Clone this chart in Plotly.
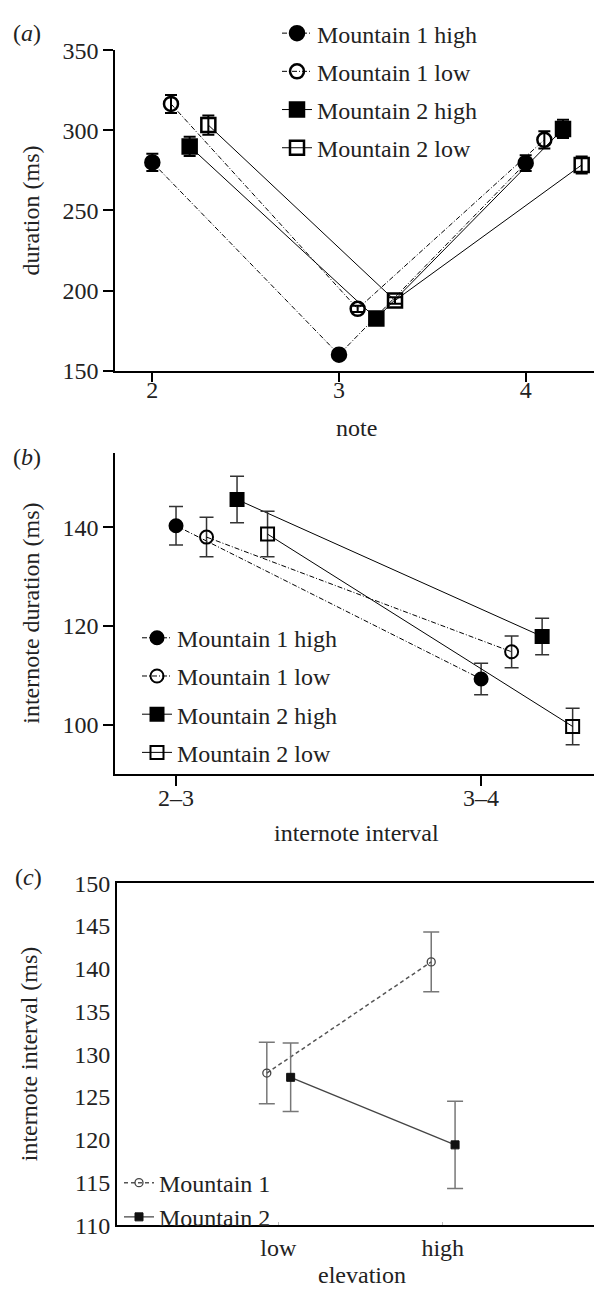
import plotly.graph_objects as go

W, H = 594, 1299
FONT = "Liberation Serif, Times New Roman, serif"
FS = 24

# ---------------- data ----------------
# panel (a): note duration (ms)
notes = [2, 3, 4]
a_m1_high = [280.0, 160.0, 279.5]
a_m1_high_err = [5.4, 2.0, 4.9]
a_m1_low = [316.5, 188.6, 294.1]
a_m1_low_err = [5.6, 2.0, 5.4]
a_m2_high = [290.0, 182.5, 300.9]
a_m2_high_err = [6.0, 2.0, 5.7]
a_m2_low = [303.3, 193.8, 278.4]
a_m2_low_err = [6.0, 2.0, 5.3]

# panel (b): internote duration (ms)
intervals = ["2–3", "3–4"]
b_m1_high = [140.3, 109.3]
b_m1_high_err = [3.9, 3.2]
b_m1_low = [138.0, 114.8]
b_m1_low_err = [4.0, 3.2]
b_m2_high = [145.6, 117.9]
b_m2_high_err = [4.7, 3.7]
b_m2_low = [138.6, 99.7]
b_m2_low_err = [4.6, 3.7]

# panel (c): internote interval (ms)
elevation = ["low", "high"]
c_m1 = [127.8, 140.8]
c_m1_err = [3.6, 3.5]
c_m2 = [127.3, 119.4]
c_m2_err = [4.0, 5.1]

series_names = ["Mountain 1 high", "Mountain 1 low", "Mountain 2 high", "Mountain 2 low"]

# ---------------- helpers ----------------
def fx(px):
    return px / W

def fy(py):
    return 1 - py / H

DASHDOT = "5px,2px,1px,2px"
styles = [
    dict(symbol="circle", dash=DASHDOT),
    dict(symbol="circle-open", dash=DASHDOT),
    dict(symbol="square", dash="solid"),
    dict(symbol="square-open", dash="solid"),
]
offsets = [0.0, 0.1, 0.2, 0.3]

fig = go.Figure()

# panel a traces
a_vals = [(a_m1_high, a_m1_high_err), (a_m1_low, a_m1_low_err),
          (a_m2_high, a_m2_high_err), (a_m2_low, a_m2_low_err)]
for i, (vals, errs) in enumerate(a_vals):
    st = styles[i]
    fig.add_trace(go.Scatter(
        x=[n + offsets[i] for n in notes], y=vals,
        mode="lines+markers", name=series_names[i],
        line=dict(color="black", width=1, dash=st["dash"]),
        marker=dict(symbol=st["symbol"], size=14, color="black",
                    line=dict(color="black", width=2.5)),
        error_y=dict(type="data", array=errs, color="black", thickness=2, width=6),
        xaxis="x", yaxis="y", legend="legend", legendgroup="a%d" % i,
    ))

# panel b traces
b_vals = [(b_m1_high, b_m1_high_err), (b_m1_low, b_m1_low_err),
          (b_m2_high, b_m2_high_err), (b_m2_low, b_m2_low_err)]
for i, (vals, errs) in enumerate(b_vals):
    st = styles[i]
    fig.add_trace(go.Scatter(
        x=[k + offsets[i] for k in range(len(intervals))], y=vals,
        mode="lines+markers", name=series_names[i],
        line=dict(color="black", width=1, dash=st["dash"]),
        marker=dict(symbol=st["symbol"], size=13, color="black",
                    line=dict(color="black", width=2)),
        error_y=dict(type="data", array=errs, color="#333333", thickness=1.5, width=7),
        xaxis="x2", yaxis="y2", legend="legend2", legendgroup="b%d" % i,
    ))

# panel c traces
c_offsets = [-0.07, 0.075]
fig.add_trace(go.Scatter(
    x=[k + 1 + c_offsets[0] for k in range(len(elevation))], y=c_m1,
    mode="lines+markers", name="Mountain 1",
    line=dict(color="#555555", width=1.5, dash="4px,3px"),
    marker=dict(symbol="circle-open", size=8, color="#444444",
                line=dict(color="#444444", width=1.3)),
    error_y=dict(type="data", array=c_m1_err, color="#777777", thickness=1.5, width=8),
    xaxis="x3", yaxis="y3", legend="legend3", legendgroup="c0",
))
fig.add_trace(go.Scatter(
    x=[k + 1 + c_offsets[1] for k in range(len(elevation))], y=c_m2,
    mode="lines+markers", name="Mountain 2",
    line=dict(color="#444444", width=1.3, dash="solid"),
    marker=dict(symbol="square", size=8, color="#111111",
                line=dict(color="#111111", width=1)),
    error_y=dict(type="data", array=c_m2_err, color="#777777", thickness=1.5, width=8),
    xaxis="x3", yaxis="y3", legend="legend3", legendgroup="c1",
))

axis_common = dict(
    showline=True, linecolor="black", linewidth=1.5,
    showgrid=False, zeroline=False,
    tickfont=dict(family=FONT, size=FS, color="#222222"),
)

layout = dict(
    width=W, height=H,
    margin=dict(l=0, r=0, t=0, b=0),
    paper_bgcolor="white", plot_bgcolor="white",
    font=dict(family=FONT, size=FS, color="#222222"),
    showlegend=True,
    # panel a
    xaxis=dict(axis_common, domain=[fx(115), 1], range=[1.80, 4.366],
               anchor="y", tickvals=notes, ticktext=[str(n) for n in notes],
               ticks="outside", ticklen=10, tickwidth=1.5, tickcolor="black",
               ticklabelstandoff=-13),
    yaxis=dict(axis_common, domain=[fy(365), fy(38)], range=[150, 350],
               anchor="x", tickvals=[150, 200, 250, 300, 350],
               ticks="outside", ticklen=10, tickwidth=1.5, tickcolor="black"),
    # panel b
    xaxis2=dict(axis_common, domain=[fx(115), 1], range=[-0.2, 1.37],
                anchor="y2", tickvals=list(range(len(intervals))), ticktext=intervals,
                ticks="outside", ticklen=10, tickwidth=1.5, tickcolor="black",
                ticklabelstandoff=-9),
    yaxis2=dict(axis_common, domain=[fy(777), fy(449)], range=[90, 155],
                anchor="x2", tickvals=[100, 120, 140],
                ticks="outside", ticklen=10, tickwidth=1.5, tickcolor="black"),
    # panel c
    xaxis3=dict(axis_common, domain=[fx(116.7), 1], range=[0.017, 2.92],
                anchor="y3", tickvals=[1, 2], ticktext=elevation, mirror=True,
                ticks="inside", ticklen=3, tickwidth=1, tickcolor="#bbbbbb"),
    yaxis3=dict(axis_common, domain=[fy(1237), fy(888)], range=[110, 150],
                anchor="x3", tickvals=[110, 115, 120, 125, 130, 135, 140, 145, 150],
                ticks=""),
    legend=dict(x=fx(277), y=fy(-2), xanchor="left", yanchor="top",
                font=dict(family=FONT, size=FS, color="#222222"),
                bgcolor="rgba(0,0,0,0)", traceorder="grouped", tracegroupgap=4),
    legend2=dict(x=fx(137), y=fy(615), xanchor="left", yanchor="top",
                 font=dict(family=FONT, size=FS, color="#222222"),
                 bgcolor="rgba(0,0,0,0)", traceorder="grouped", tracegroupgap=4),
    legend3=dict(x=fx(119), y=fy(1171), xanchor="left", yanchor="top",
                 font=dict(family=FONT, size=FS, color="#222222"),
                 bgcolor="rgba(0,0,0,0)", traceorder="grouped", tracegroupgap=0),
)
fig.update_layout(**layout)

# axis titles and panel labels as annotations
def ann(text, xpx, ypx, angle=0):
    fig.add_annotation(text=text, x=fx(xpx), y=fy(ypx), xref="paper", yref="paper",
                       showarrow=False, xanchor="center", yanchor="middle",
                       textangle=angle, font=dict(family=FONT, size=FS, color="#222222"))

ann("(<i>a</i>)", 27, 20)
ann("(<i>b</i>)", 27, 453)
ann("(<i>c</i>)", 28, 882)
ann("duration (ms)", 31, 201.5, -90)
ann("internote duration (ms)", 31, 613, -90)
ann("internote interval (ms)", 29, 1062.5, -90)
ann("note", 356, 423)
ann("internote interval", 356, 837)
ann("elevation", 362, 1288)

fig.write_html("out.html")
